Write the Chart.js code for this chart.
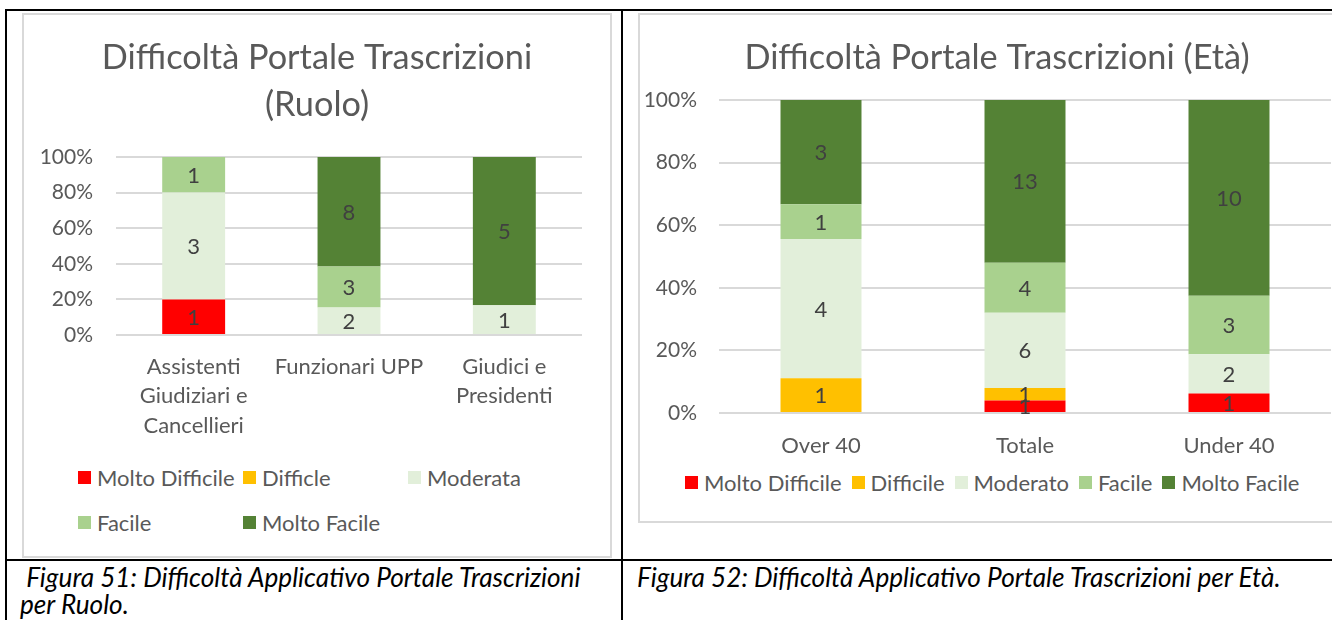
<!DOCTYPE html>
<html>
<head>
<meta charset="utf-8">
<script src="https://cdn.jsdelivr.net/npm/chart.js@4.4.1/dist/chart.umd.min.js"></script>
<style>
  body { margin: 0; width: 1332px; height: 620px; background: #fff; position: relative; overflow: hidden; font-family: Lato, sans-serif; }
  .line { position: absolute; background: #000; }
  .frame { position: absolute; border: 2px solid #d9d9d9; box-sizing: border-box; }
  .legend { position: absolute; color: #595959; font-size: 22px; }
  .legend .item { display: flex; align-items: center; white-space: nowrap; }
  .legend .box { width: 13px; height: 13px; margin-right: 6px; flex: none; }
  .caption { position: absolute; font-style: italic; font-size: 26.2px; color: #000; line-height: 27px; white-space: nowrap; }
  canvas { position: absolute; }
</style>
</head>
<body>
<!-- table borders -->
<div class="line" style="left:5px;top:9px;width:1327px;height:2px"></div>
<div class="line" style="left:5px;top:9px;width:2px;height:611px"></div>
<div class="line" style="left:621px;top:9px;width:2px;height:611px"></div>
<div class="line" style="left:5px;top:559px;width:1327px;height:2px"></div>

<!-- chart frames -->
<div class="frame" style="left:22px;top:13px;width:590px;height:545px"></div>
<div class="frame" style="left:638px;top:13px;width:720px;height:510px"></div>

<canvas id="chartRuolo" width="588" height="427" style="left:23px;top:13px"></canvas>
<canvas id="chartEta" width="716" height="449" style="left:639px;top:13px"></canvas>

<div id="legendRuolo" class="legend" style="left:78px;top:455px;display:grid;grid-template-columns:165px 165px 165px;grid-auto-rows:45px"></div>
<div id="legendEta" class="legend" style="left:685px;top:470px;height:24px;display:flex"></div>

<div class="caption" style="left:20px;top:564px">&nbsp;Figura 51: Difficoltà Applicativo Portale Trascrizioni<br>per Ruolo.</div>
<div class="caption" style="left:637px;top:564px">Figura 52: Difficoltà Applicativo Portale Trascrizioni per Età.</div>

<script>
// colours shared by both charts
const seriesColors = ['#FF0000', '#FFC000', '#E2EFDA', '#A9D18E', '#548235']
const percentTicks = [0, 20, 40, 60, 80, 100]

// chart 1: per ruolo
const ruoloTitle = ['Difficoltà Portale Trascrizioni', '(Ruolo)']
const ruoloSeries = ['Molto Difficile', 'Difficle', 'Moderata', 'Facile', 'Molto Facile']
const ruoloLabels = [['Assistenti', 'Giudiziari e', 'Cancellieri'], ['Funzionari UPP'], ['Giudici e', 'Presidenti']]
const ruoloMoltoDifficile = [1, 0, 0]
const ruoloDifficile = [0, 0, 0]
const ruoloModerata = [3, 2, 1]
const ruoloFacile = [1, 3, 0]
const ruoloMoltoFacile = [0, 8, 5]

// chart 2: per eta
const etaTitle = 'Difficoltà Portale Trascrizioni (Età)'
const etaSeries = ['Molto Difficile', 'Difficile', 'Moderato', 'Facile', 'Molto Facile']
const etaLabels = ['Over 40', 'Totale', 'Under 40']
const etaMoltoDifficile = [0, 1, 1]
const etaDifficile = [1, 1, 0]
const etaModerato = [4, 6, 2]
const etaFacile = [1, 4, 3]
const etaMoltoFacile = [3, 13, 10]

Chart.defaults.font.family = 'Lato, sans-serif'
Chart.defaults.color = '#595959'

// writes the count in the middle of every segment
const countLabels = {
    id: 'countLabels',
    afterDatasetsDraw(chart) {
        const ctx = chart.ctx
        ctx.save()
        ctx.font = '22px Lato, sans-serif'
        ctx.fillStyle = '#404040'
        ctx.textAlign = 'center'
        ctx.textBaseline = 'middle'
        chart.data.datasets.forEach((ds, i) => {
            chart.getDatasetMeta(i).data.forEach((bar, j) => {
                if (!ds.counts[j]) return
                ctx.fillText(String(ds.counts[j]), bar.x, (bar.y + bar.base) / 2 + 1)
            })
        })
        ctx.restore()
    }
}

function toPercent(rows) {
    let totals = rows[0].map((_, j) => rows.reduce((s, r) => s + r[j], 0))
    return rows.map(r => r.map((v, j) => v / totals[j] * 100))
}

function buildLegend(id, names) {
    let el = document.getElementById(id)
    names.forEach((name, i) => {
        el.innerHTML += `<div class="item"><span class="box" style="background:${seriesColors[i]}"></span>${name}</div>`
    })
}

function makeChart(id, opts) {
    let pct = toPercent(opts.rows)
    return new Chart(document.getElementById(id), {
        type: 'bar',
        data: {
            labels: opts.labels,
            datasets: opts.series.map((name, i) => ({
                label: name,
                data: pct[i],
                counts: opts.rows[i],
                yAxisID: 'y',
                backgroundColor: seriesColors[i],
                borderWidth: 0,
                barPercentage: opts.barPct,
                categoryPercentage: 1
            }))
        },
        options: {
            responsive: false,
            animation: false,
            layout: { padding: 0 },
            plugins: {
                legend: { display: false },
                tooltip: { enabled: false },
                title: {
                    display: true,
                    text: opts.title,
                    color: '#595959',
                    font: { size: 34.3, weight: 'normal', lineHeight: 47 / 34.3 },
                    padding: { top: 21.5, bottom: opts.titleBottom }
                }
            },
            scales: {
                x: {
                    stacked: true,
                    grid: { display: false },
                    border: { display: false },
                    ticks: { color: '#595959', font: { size: 22, lineHeight: 29.6 / 22 }, padding: opts.xPad, maxRotation: 0, autoSkip: false },
                    afterFit: s => { s.height = opts.xHeight }
                },
                y: {
                    stacked: true,
                    min: 0,
                    max: 100,
                    afterBuildTicks: s => { s.ticks = percentTicks.map(v => ({ value: v })) },
                    ticks: { color: '#595959', font: { size: 21 }, padding: opts.yPad, callback: v => v + '%' },
                    grid: { color: '#d9d9d9', lineWidth: 2, drawTicks: false },
                    border: { display: false },
                    afterFit: s => { s.width = opts.yWidth }
                },
                // empty space on the right so the title stays centred on the frame
                gap: {
                    position: 'right',
                    grid: { display: false },
                    border: { display: false },
                    ticks: { display: false },
                    afterFit: s => { s.width = opts.padRight }
                }
            }
        },
        plugins: [countLabels]
    })
}

makeChart('chartRuolo', {
    title: ruoloTitle,
    labels: ruoloLabels,
    series: ruoloSeries,
    rows: [ruoloMoltoDifficile, ruoloDifficile, ruoloModerata, ruoloFacile, ruoloMoltoFacile],
    barPct: 0.405,
    padRight: 29,
    titleBottom: 28.5,
    xPad: 9,
    xHeight: 105,
    yPad: 23,
    yWidth: 93
})

makeChart('chartEta', {
    title: etaTitle,
    labels: etaLabels,
    series: etaSeries,
    rows: [etaMoltoDifficile, etaDifficile, etaModerato, etaFacile, etaMoltoFacile],
    barPct: 0.397,
    padRight: 24,
    titleBottom: 18.5,
    xPad: 10,
    xHeight: 49,
    yPad: 22,
    yWidth: 80
})

buildLegend('legendRuolo', ruoloSeries)
buildLegend('legendEta', etaSeries)
document.querySelectorAll('#legendEta .item').forEach(el => el.style.marginRight = '10px')
</script>
</body>
</html>
